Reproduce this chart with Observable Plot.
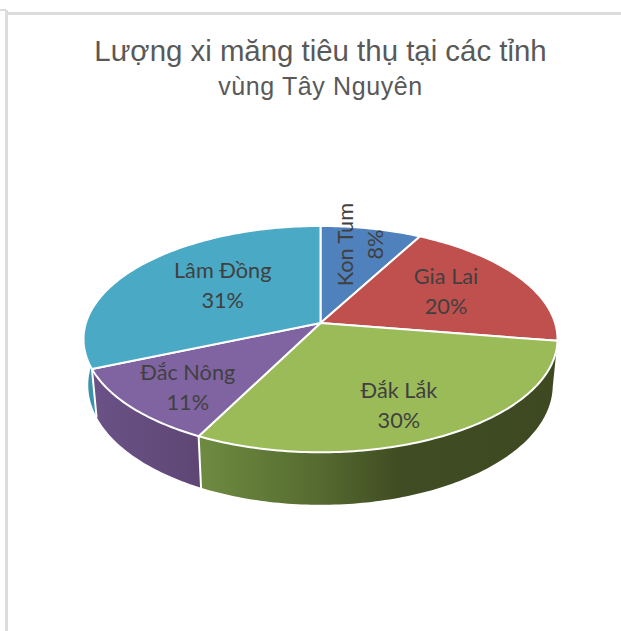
<!DOCTYPE html>
<html>
<head>
<meta charset="utf-8">
<script src="https://cdn.jsdelivr.net/npm/d3@7"></script>
<script src="https://cdn.jsdelivr.net/npm/@observablehq/plot@0.6"></script>
<style>
html,body{margin:0;padding:0;background:#fff;width:621px;height:631px;overflow:hidden}
#wrap{position:relative;width:621px;height:631px}
#head{position:relative;height:104px}
.t{position:absolute;left:0;width:641px;text-align:center;color:#595959;font-family:"Liberation Sans",sans-serif;white-space:nowrap}
#t1{top:33px;font-size:29.4px;line-height:36px}
#t2{top:70px;left:0;font-size:25px;line-height:32px;letter-spacing:.6px}
.fr{position:absolute;background:#dcdcdc;z-index:3}
svg{display:block}
</style>
</head>
<body>
<div id="wrap">
<div class="fr" style="left:5px;top:10px;width:3px;height:621px"></div>
<div class="fr" style="left:7px;top:12px;width:614px;height:3px"></div>
<div class="fr" style="left:0;top:9px;width:6px;height:2px"></div>
<div id="head">
<div class="t" id="t1">Lượng xi măng tiêu thụ tại các tỉnh</div>
<div class="t" id="t2">vùng Tây Nguyên</div>
</div>
<div id="chart"></div>
</div>
<script>
const provinces = ["Kon Tum", "Gia Lai", "Đắk Lắk", "Đắc Nông", "Lâm Đồng"];
const shares = [7.9, 19.6, 30.0, 11.1, 31.4];
const topColors = ["#4f81bd", "#c0504d", "#9bbb59", "#8064a2", "#4aa9c5"];

// Wall shading: left-to-right gradient stops across each visible wall
const wallShades = {
  "Đắk Lắk": [[0, "#6f8b42"], [0.335, "#556b2f"], [0.56, "#404c22"], [1, "#3e4922"]],
  "Đắc Nông": [[0, "#6b5287"], [1, "#5e4674"]],
  "Lâm Đồng": [[0, "#3a93ab"], [1, "#3a93ab"]]
};
// Where each label sits: radial fraction of the slice's mid-angle, nudges, rotation
const labelRadius = [0.8, 0.62, 0.72, 0.72, 0.52];
const labelNudgeX = [-4, 0, -6, 0, 0];
const labelNudgeY = [-1, -4, 2, 4, -9];
const labelRotate = [-90, 0, 0, 0, 0];

// Tilted, perspective view of the unit disc
const k = 0.1416, depth = 0.4065, baseShrink = 0.98;
const rad = d => d * Math.PI / 180;
const project = (deg, r = 1, base = false) => {
  const X = r * Math.sin(rad(deg)), Y = -r * Math.cos(rad(deg)), den = 1 - k * Y;
  return base
    ? {x: baseShrink * X / den, y: (Y + depth) / den}
    : {x: X / den, y: Y / den};
};

const total = d3.sum(shares);
let run = 0;
const slices = provinces.map((name, i) => {
  const a0 = run / total * 360; run += shares[i];
  const a1 = run / total * 360;
  return {name, i, a0, a1, mid: (a0 + a1) / 2, share: shares[i], color: topColors[i]};
});
const arcAngles = (a0, a1, step = 1) => {
  const n = Math.max(1, Math.ceil((a1 - a0) / step));
  return d3.range(n + 1).map(j => a0 + (a1 - a0) * j / n);
};

// Top faces
const topRows = slices.flatMap(s => [
  {id: s.name, ...project(0, 0), c: s.color},
  ...arcAngles(s.a0, s.a1).map(a => ({id: s.name, ...project(a), c: s.color})),
  {id: s.name, ...project(0, 0), c: s.color}
]);

// Side walls: only the parts of the rim that face the viewer
const wallDefs = Object.keys(wallShades).map(name => {
  const s = slices.find(d => d.name === name);
  const as = arcAngles(s.a0, name === "Lâm Đồng" ? 272 : s.a1);
  return {
    name,
    gradient: `wall${provinces.indexOf(name)}`,
    rows: [
      ...as.map(a => project(a)),
      ...as.slice().reverse().map(a => project(a, 1, true))
    ]
  };
});
const wallSeams = slices
  .filter(s => s.name === "Đắk Lắk" || s.name === "Đắc Nông")
  .flatMap(s => [{id: s.name, ...project(s.a1)}, {id: s.name, ...project(s.a1, 1, true)}]);

// Gradient definitions handed to Plot as a custom mark
const gradientDefs = () => {
  const defs = d3.create("svg:defs");
  wallDefs.forEach(w => {
    const g = defs.append("linearGradient").attr("id", w.gradient).attr("x1", 0).attr("x2", 1).attr("y1", 0).attr("y2", 0);
    wallShades[w.name].forEach(([o, c]) => g.append("stop").attr("offset", o).attr("stop-color", c));
  });
  return defs.node();
};

// Labels
const labelRows = slices.map(s => ({
  ...project(s.mid, labelRadius[s.i]),
  text: `${s.name}\n${Math.round(s.share)}%`,
  rotate: labelRotate[s.i],
  nudgeX: labelNudgeX[s.i],
  nudgeY: labelNudgeY[s.i]
}));

// Scales: one disc unit maps to the pie's radius on screen
const W = 621, H = 527, ax = 234.6, ay = 110.9, cx = 320, cy = 322.6 - 104;
const chart = Plot.plot({
  width: W, height: H, margin: 0,
  style: {background: "transparent"},
  x: {domain: [-cx / ax, (W - cx) / ax], range: [0, W], axis: null},
  y: {domain: [-cy / ay, (H - cy) / ay], range: [0, H], axis: null},
  color: {type: "identity"},
  marks: [
    gradientDefs,
    ...wallDefs.map(w => Plot.line(w.rows, {x: "x", y: "y", fill: `url(#${w.gradient})`, stroke: "none", curve: "linear"})),
    Plot.line(wallSeams, {x: "x", y: "y", z: "id", stroke: "white", strokeWidth: 2, curve: "linear"}),
    Plot.line(topRows, {x: "x", y: "y", z: "id", fill: "c", stroke: "white", strokeWidth: 2, strokeLinejoin: "round", curve: "linear"}),
    ...labelRows.map(l => Plot.text([l], {
      x: "x", y: "y", text: "text", rotate: l.rotate, dx: l.nudgeX, dy: l.nudgeY,
      fontFamily: "Lato, 'Noto Sans', sans-serif", fontSize: 21.7, lineHeight: 1.38, fill: "#404040"
    }))
  ]
});
document.getElementById("chart").appendChild(chart);
</script>
</body>
</html>
